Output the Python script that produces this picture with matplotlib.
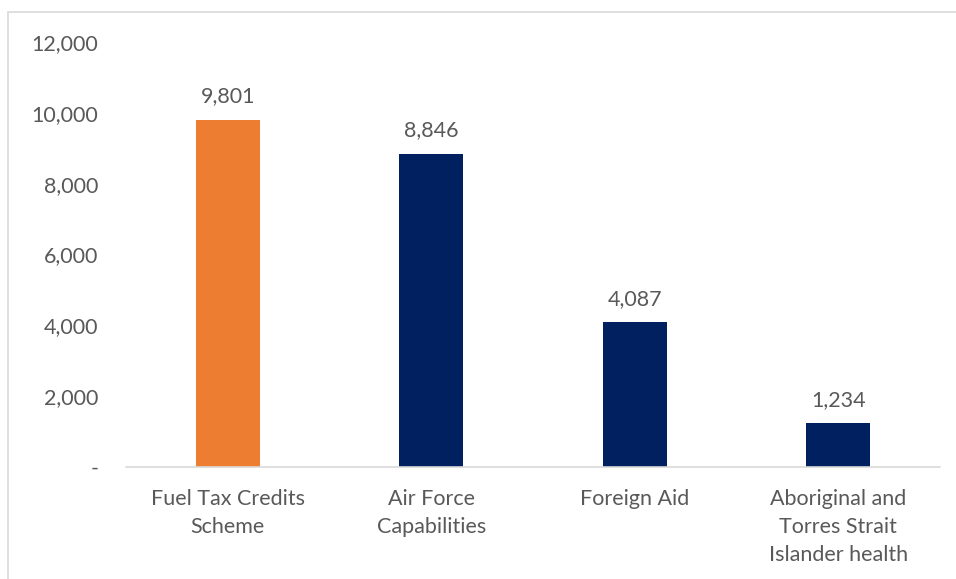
import matplotlib.pyplot as plt
from matplotlib.patches import Rectangle
from matplotlib.ticker import FuncFormatter

categories = ["Fuel Tax Credits\nScheme", "Air Force\nCapabilities", "Foreign Aid",
              "Aboriginal and\nTorres Strait\nIslander health"]
values = [9801, 8846, 4087, 1234]
colors = ["#ED7D31", "#002060", "#002060", "#002060"]

plt.rcParams['font.family'] = ['Lato', 'DejaVu Sans']
txt = "#595959"
fs = 15.5

fig = plt.figure(figsize=(9.56, 5.79), dpi=100)
ax = fig.add_axes([126 / 956, 1 - 467 / 579, (940 - 126) / 956, (467 - 42) / 579])

x = range(len(values))
bars = ax.bar(x, values, width=0.315, color=colors)
for b, v in zip(bars, values):
    ax.text(b.get_x() + b.get_width() / 2, v + 380, f"{v:,}", ha="center", va="bottom",
            fontsize=fs, color=txt)

ax.set_xlim(-0.5, 3.5)
ax.set_ylim(0, 12000)
ax.set_yticks(range(0, 12001, 2000))
ax.yaxis.set_major_formatter(FuncFormatter(lambda v, p: "-" if v == 0 else f"{int(v):,}"))
ax.set_xticks(list(x))
ax.set_xticklabels(categories, fontsize=fs, color=txt, linespacing=1.5)
ax.tick_params(axis="y", labelsize=fs, labelcolor=txt, length=0, pad=20)
ax.tick_params(axis="x", length=0, pad=16)

for s in ["top", "right", "left"]:
    ax.spines[s].set_visible(False)
ax.spines["bottom"].set_color("#D9D9D9")
ax.spines["bottom"].set_linewidth(1.2)

# outer chart border (cropped on right and bottom)
fig.patches.append(Rectangle((8 / 956, -0.05), 1.1, 1 - 12 / 579 + 0.05, transform=fig.transFigure,
                             fill=False, edgecolor="#D9D9D9", linewidth=1.2))

fig.savefig("out.png", dpi=100)
